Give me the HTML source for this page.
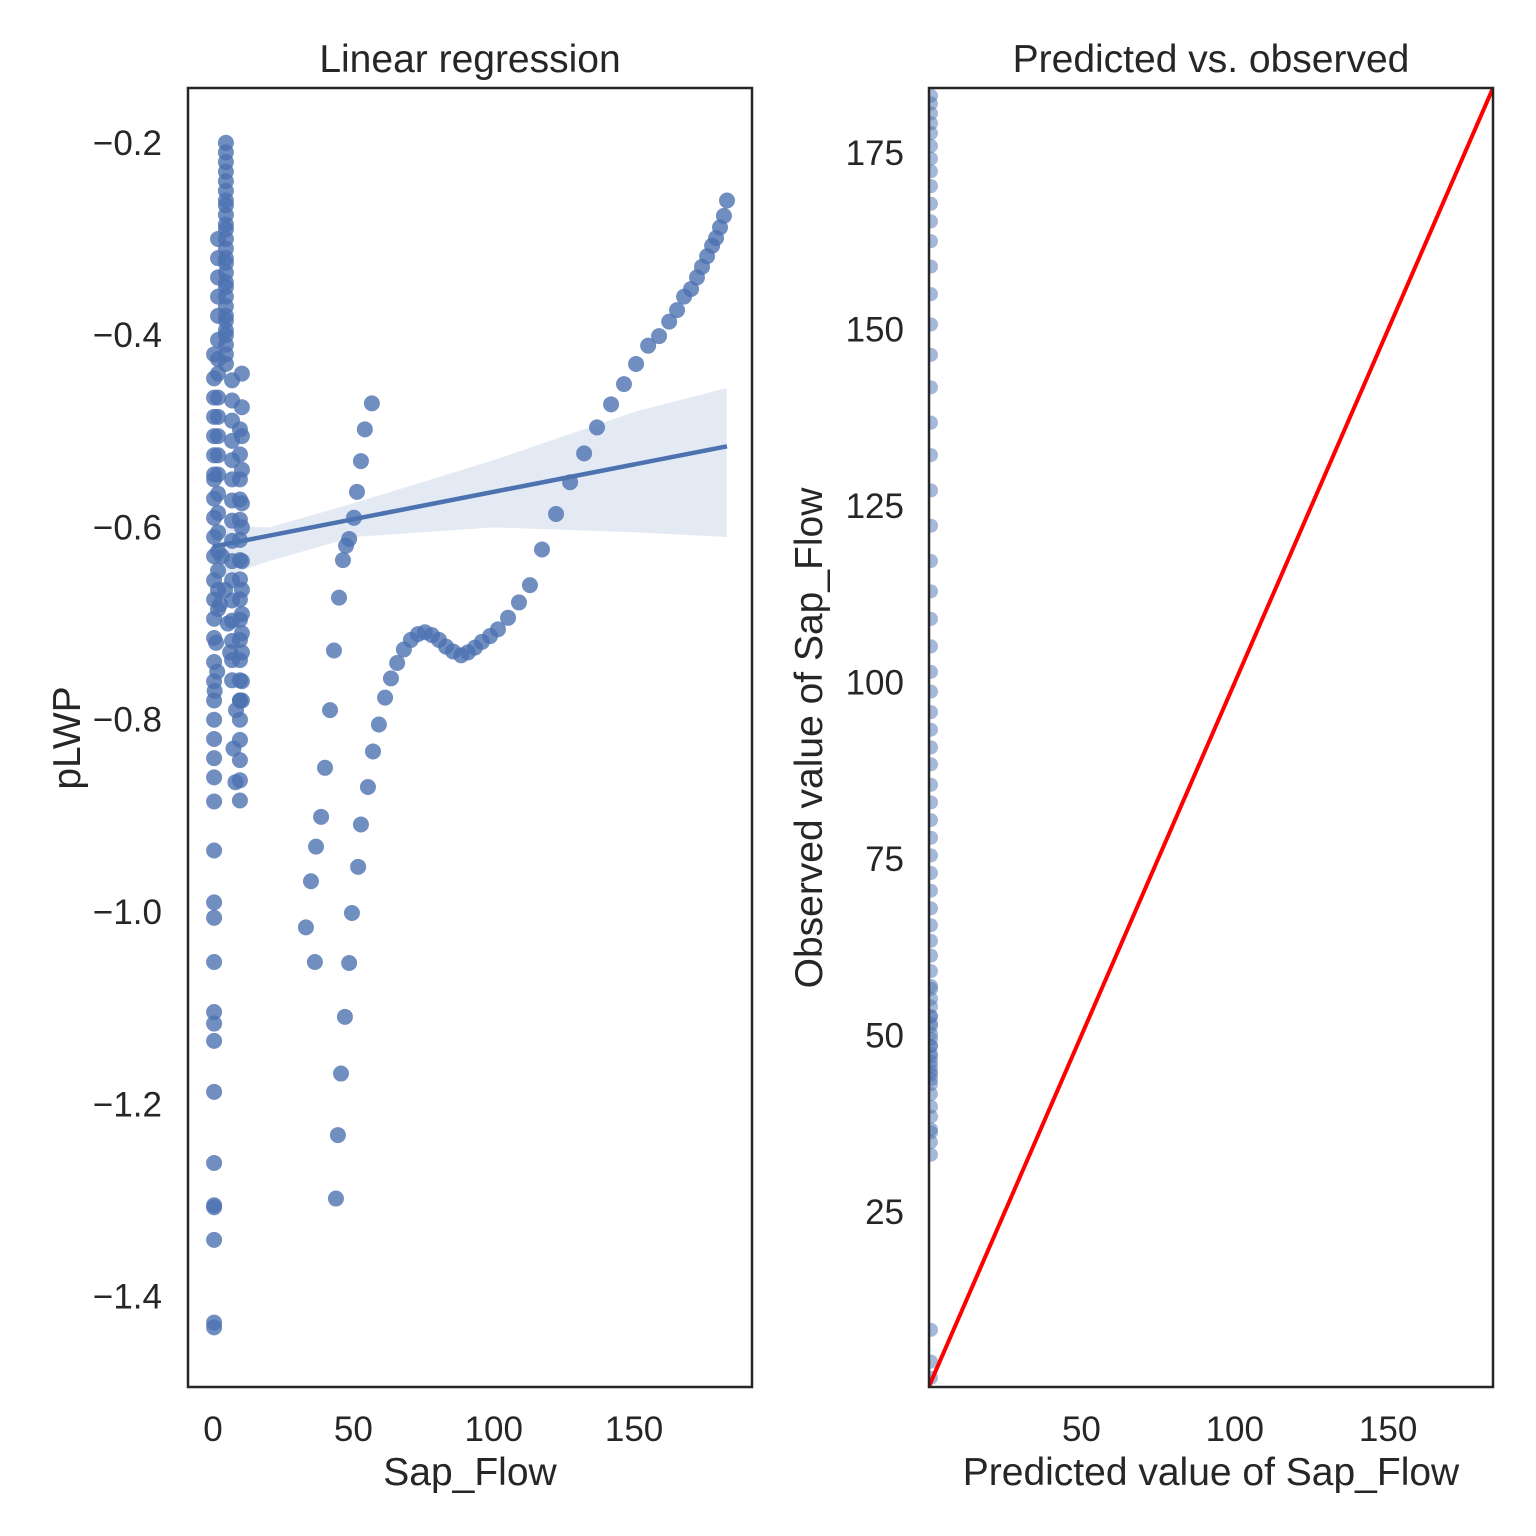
<!DOCTYPE html>
<html><head><meta charset="utf-8"><style>
html,body{margin:0;padding:0;background:#fff;}
svg{display:block;font-family:"Liberation Sans",sans-serif;}
</style></head><body>
<svg id="chart" width="1536" height="1536" viewBox="0 0 1536 1536" xmlns="http://www.w3.org/2000/svg">
<rect x="0" y="0" width="1536" height="1536" fill="#fff"/>
<defs>
<clipPath id="clipL"><rect x="188" y="88" width="564" height="1299"/></clipPath>
<clipPath id="clipR"><rect x="929" y="88" width="564" height="1299"/></clipPath>
</defs>
<g id="left"></g>
<g id="right"></g>
</svg>
<script>
// ---- data ----
const curveX=[33.1,36.3,34.9,36.7,38.5,39.9,41.7,43.1,44.9,46.3,47.4,48.5,50.2,51.3,52.7,54.1,56.6,
43.8,44.5,45.6,47.0,48.5,49.5,51.7,52.7,55.2,57.0,59.1,61.3,63.4,65.6,68.0,70.5,73.0,75.5,78.0,80.5,83.0,85.5,88.4,90.8,93.3,95.8,98.7,101.5,105.1,109.0,112.9,117.2,122.2,127.2,132.2,136.8,141.8,146.4,150.7,155.0,158.9,162.5,165.3,167.8,170.3,172.4,174.2,176.0,177.8,179.2,180.6,182.0,183.1];
const curveY=[-1.016,-1.052,-0.968,-0.932,-0.901,-0.85,-0.79,-0.728,-0.673,-0.634,-0.619,-0.612,-0.59,-0.563,-0.531,-0.498,-0.471,
-1.298,-1.232,-1.168,-1.109,-1.053,-1.001,-0.953,-0.909,-0.87,-0.833,-0.805,-0.777,-0.757,-0.741,-0.727,-0.717,-0.711,-0.709,-0.712,-0.717,-0.724,-0.729,-0.733,-0.73,-0.725,-0.719,-0.713,-0.706,-0.694,-0.678,-0.66,-0.623,-0.586,-0.553,-0.523,-0.496,-0.472,-0.451,-0.43,-0.411,-0.401,-0.386,-0.374,-0.36,-0.352,-0.34,-0.329,-0.318,-0.307,-0.299,-0.288,-0.276,-0.26];
const clusterX=[4.6,4.6,4.6,4.6,4.6,4.6,4.6,4.6,4.6,4.6,4.6,4.6,4.6,4.6,4.6,4.6,4.6,4.6,4.6,4.6,4.6,4.6,4.6,4.6,4.6,4.6,4.6,
1.8,1.8,1.8,1.8,1.8,1.8,1.8,1.8,1.8,1.8,1.8,1.8,1.8,1.8,1.8,1.8,1.8,1.8,1.8,1.8,
0.4,0.4,0.4,0.4,0.4,0.4,0.4,0.4,0.4,0.4,0.4,0.4,0.4,0.4,0.4,0.4,0.4,0.4,0.4,0.4,0.4,0.4,0.4,0.4,0.4,0.4,0.4,0.4,0.4,0.4,0.4,0.4,0.4,0.4,0.4,0.4,0.4,0.4,
6.8,6.8,6.8,6.8,6.8,6.8,6.8,6.8,6.8,6.8,6.8,6.8,6.8,6.8,6.8,6.8,
9.6,9.6,9.6,9.6,9.6,9.6,9.6,9.6,9.6,9.6,9.6,9.6,9.6,9.6,9.6,9.6,9.6,9.6,9.6,9.6,
10.3,10.3,10.3,10.3,10.3,10.3,10.3,10.3,10.3,10.3,10.3,10.3,10.3,
8.2,7.3,8.0,6.1,5.3,4.3,3.2,1.1,1.5,0.6,2.5];
const clusterY=[-0.20,-0.21,-0.22,-0.23,-0.24,-0.25,-0.26,-0.265,-0.275,-0.285,-0.29,-0.30,-0.31,-0.32,-0.325,-0.335,-0.345,-0.35,-0.36,-0.37,-0.38,-0.385,-0.395,-0.40,-0.41,-0.42,-0.43,
-0.30,-0.32,-0.34,-0.36,-0.38,-0.405,-0.425,-0.44,-0.465,-0.485,-0.505,-0.525,-0.545,-0.565,-0.585,-0.605,-0.625,-0.645,-0.665,-0.685,
-0.42,-0.445,-0.465,-0.485,-0.505,-0.525,-0.55,-0.57,-0.59,-0.61,-0.63,-0.655,-0.675,-0.695,-0.715,-0.74,-0.76,-0.78,-0.80,-0.82,-0.84,-0.86,-0.885,-0.936,-0.99,-1.006,-1.052,-1.104,-1.116,-1.134,-1.187,-1.261,-1.305,-1.307,-1.341,-1.427,-1.432,-0.545,
-0.447,-0.468,-0.489,-0.51,-0.53,-0.55,-0.572,-0.593,-0.614,-0.635,-0.655,-0.676,-0.697,-0.718,-0.738,-0.759,
-0.498,-0.524,-0.55,-0.571,-0.592,-0.613,-0.634,-0.654,-0.675,-0.696,-0.717,-0.738,-0.759,-0.78,-0.8,-0.821,-0.842,-0.863,-0.884,-0.78,
-0.44,-0.475,-0.505,-0.54,-0.575,-0.6,-0.635,-0.665,-0.69,-0.71,-0.73,-0.76,-0.78,
-0.79,-0.83,-0.865,-0.73,-0.7,-0.665,-0.63,-0.72,-0.75,-0.77,-0.68];
const regIntercept=-0.620, regSlope=0.00057;
const bandX=[0,20,50,100,150,183];
const bandLo=[-0.655,-0.635,-0.61,-0.60,-0.605,-0.61];
const bandHi=[-0.598,-0.600,-0.575,-0.53,-0.48,-0.455];
const xTicksL=[0,50,100,150], yTicksL=[-0.2,-0.4,-0.6,-0.8,-1.0,-1.2,-1.4];
const xTicksR=[50,100,150], yTicksR=[25,50,75,100,125,150,175];
const predSmall=[0.3,0.3,0.3], obsSmall=[8.3,3.8,1.5];
const predVal=0.3;

const NS="http://www.w3.org/2000/svg";
function mk(tag,attrs,parent){const e=document.createElementNS(NS,tag);for(const k in attrs)e.setAttribute(k,attrs[k]);parent.appendChild(e);return e;}
const L=document.getElementById('left'), R=document.getElementById('right');
const xL=v=>188+(v-(-8.9))/(192.0-(-8.9))*564;
const yL=v=>88+(-0.143-v)/(-0.143-(-1.494))*1299;
const xR=v=>929+(v-0.3)/(184.2-0.3)*564;
const yR=v=>1387-(v-0.2)/(184.2-0.2)*1299;
const fmt=v=>(v<0?'\u2212':'')+Math.abs(v).toFixed(1);
const TF=35, LF=39;

const bandPts=bandX.map((x,i)=>xL(x)+','+yL(bandHi[i])).concat(bandX.slice().reverse().map((x,i)=>xL(x)+','+yL(bandLo[bandX.length-1-i])));
const band=mk('polygon',{points:bandPts.join(' '),fill:'#4c72b0','fill-opacity':0.15,'clip-path':'url(#clipL)'},L);


const gPts=mk('g',{'clip-path':'url(#clipL)'},L);


const allX=clusterX.concat(curveX), allY=clusterY.concat(curveY);
allX.forEach((x,i)=>{
  const c=mk('circle',{cx:xL(x),cy:yL(allY[i]),r:8,fill:'#4c72b0','fill-opacity':0.8},gPts);
  
  
});
const rl=mk('line',{x1:xL(0),y1:yL(regIntercept),x2:xL(183.1),y2:yL(regIntercept+regSlope*183.1),stroke:'#4c72b0','stroke-width':4.5},L);


const fL=mk('rect',{x:188,y:88,width:564,height:1299,fill:'none',stroke:'#262626','stroke-width':2.5},L);


xTicksL.forEach(v=>{const t=mk('text',{x:xL(v),y:1441,'font-size':TF,fill:'#262626','text-anchor':'middle'},L);t.textContent=v;

});
yTicksL.forEach(v=>{const t=mk('text',{x:162,y:yL(v)+12,'font-size':TF,fill:'#262626','text-anchor':'end'},L);t.textContent=fmt(v);

});
let t=mk('text',{x:470,y:72,'font-size':LF,fill:'#262626','text-anchor':'middle'},L);t.textContent='Linear regression';


t=mk('text',{x:470,y:1485,'font-size':LF,fill:'#262626','text-anchor':'middle'},L);t.textContent='Sap_Flow';


t=mk('text',{x:80,y:738,'font-size':LF,fill:'#262626','text-anchor':'middle',transform:'rotate(-90 80 738)'},L);t.textContent='pLWP';



const gR=mk('g',{'clip-path':'url(#clipR)'},R);


curveX.concat(obsSmall).forEach((o,i)=>{
  const p=i<curveX.length?predVal:predSmall[i-curveX.length];
  const c=mk('circle',{cx:xR(p)+2,cy:yR(o),r:7,fill:'#4c72b0','fill-opacity':0.5},gR);
  
  
});
const idl=mk('line',{x1:xR(0.3),y1:yR(0.3),x2:xR(184.2),y2:yR(184.2),stroke:'#ff0000','stroke-width':4,'clip-path':'url(#clipR)'},R);


const fR=mk('rect',{x:929,y:88,width:564,height:1299,fill:'none',stroke:'#262626','stroke-width':2.5},R);


xTicksR.forEach(v=>{const t=mk('text',{x:xR(v),y:1441,'font-size':TF,fill:'#262626','text-anchor':'middle'},R);t.textContent=v;

});
yTicksR.forEach(v=>{const t=mk('text',{x:904,y:yR(v)+12,'font-size':TF,fill:'#262626','text-anchor':'end'},R);t.textContent=v;

});
t=mk('text',{x:1211,y:72,'font-size':LF,fill:'#262626','text-anchor':'middle'},R);t.textContent='Predicted vs. observed';


t=mk('text',{x:1211,y:1485,'font-size':LF,fill:'#262626','text-anchor':'middle'},R);t.textContent='Predicted value of Sap_Flow';


t=mk('text',{x:822,y:738,'font-size':LF,fill:'#262626','text-anchor':'middle',transform:'rotate(-90 822 738)'},R);t.textContent='Observed value of Sap_Flow';


</script>
</body></html>
